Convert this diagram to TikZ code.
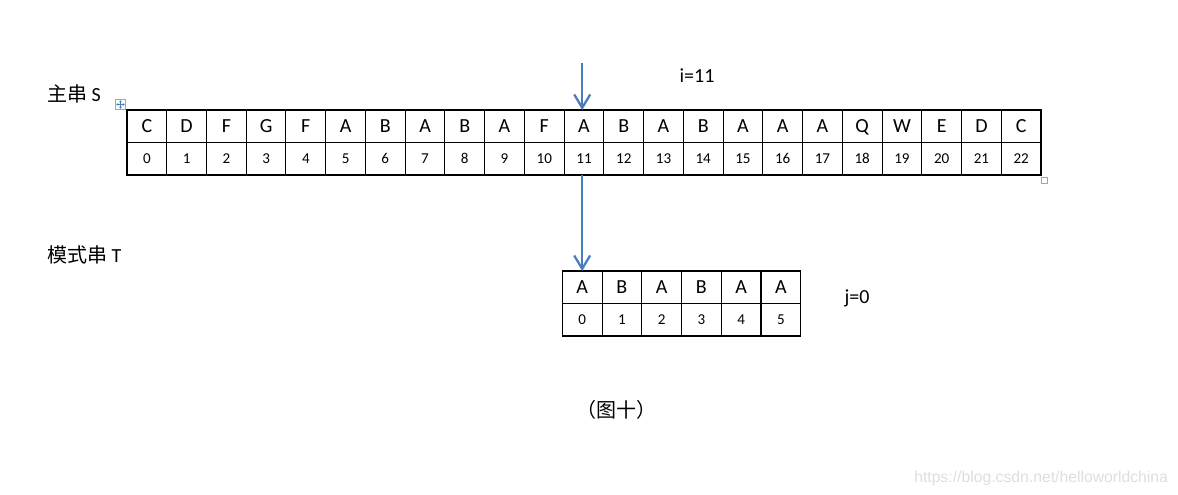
\documentclass[tikz,border=0pt]{standalone}
\usepackage{fontspec}
\setmainfont{Carlito}
\newfontfamily\cjk{Noto Sans CJK SC}
\newfontfamily\wmfont{Liberation Sans}
\usetikzlibrary{arrows.meta}
\definecolor{ptrBlue}{RGB}{74,126,187}
\definecolor{markGray}{RGB}{165,165,165}
\definecolor{wmGray}{RGB}{222,222,222}

\begin{document}
\begin{tikzpicture}[
    x=0.75pt, y=-0.75pt,
    every node/.style={inner sep=0pt, outer sep=0pt},
    chr/.style={draw, line width=0.8pt, minimum width=29.805pt, minimum height=24.375pt,
      text height=9.6pt, text depth=0pt, font=\fontsize{15}{17}\selectfont},
    idx/.style={chr, text height=7pt, font=\fontsize{11.3}{13}\selectfont},
    lbl/.style={font=\fontsize{15}{17}\selectfont},
    ptr/.style={draw=ptrBlue, line width=1.7pt,
      -{Straight Barb[length=10pt,width=12pt,line width=1.7pt]}}
]
\useasboundingbox (0,0) rectangle (1178,495);

% main string S
\node[lbl, anchor=west] (slabel) at (47,94) {{\cjk 主串} S};
\foreach \c [count=\i from 0] in {C,D,F,G,F,A,B,A,B,A,F,A,B,A,B,A,A,A,Q,W,E,D,C} {
  \node[chr] (s\i) at ({127+39.74*(\i+0.5)},126.25) {\c};
  \node[idx] (sn\i) at ({127+39.74*(\i+0.5)},158.75) {\i};
}
\node[draw=markGray, line width=0.6pt, minimum size=8pt] (movebox) at (120.5,104.5) {};
\draw[ptrBlue, line width=0.5pt, {Stealth[length=1.6pt,width=2.2pt]}-{Stealth[length=1.6pt,width=2.2pt]}]
  (116.3,104.5) -- (124.7,104.5);
\draw[ptrBlue, line width=0.5pt, {Stealth[length=1.6pt,width=2.2pt]}-{Stealth[length=1.6pt,width=2.2pt]}]
  (120.5,100.3) -- (120.5,108.7);
\node[draw=markGray, line width=0.6pt, minimum size=5pt] (sizebox) at (1044.5,180.5) {};

% pattern T
\node[lbl, anchor=west] (tlabel) at (47,255) {{\cjk 模式串} T};
\foreach \c [count=\j from 0] in {A,B,A,B,A,A} {
  \node[chr] (t\j) at ({562.3+39.74*(\j+0.5)},287.25) {\c};
  \node[idx] (tn\j) at ({562.3+39.74*(\j+0.5)},319.75) {\j};
}

% pointers
\node[lbl, text height=9.6pt, text depth=0pt] (ival) at (697,76) {i=11};
\node[lbl, text height=9.6pt, text depth=0pt] (jval) at (857,297) {j=0};
\coordinate (itop) at (582.2,63);
\draw[ptr] (itop) -- (itop |- s11.north);
\draw[ptr] (t0.north |- sn11.south) -- (t0.north);

\node[font=\cjk\fontsize{15}{17}\selectfont] (caption) at (616,410) {（图十）};
\node[anchor=east, text=wmGray, font=\wmfont\fontsize{11.8}{14}\selectfont] (wm) at (1168,478)
  {https://blog.csdn.net/helloworldchina};
\end{tikzpicture}
\end{document}
